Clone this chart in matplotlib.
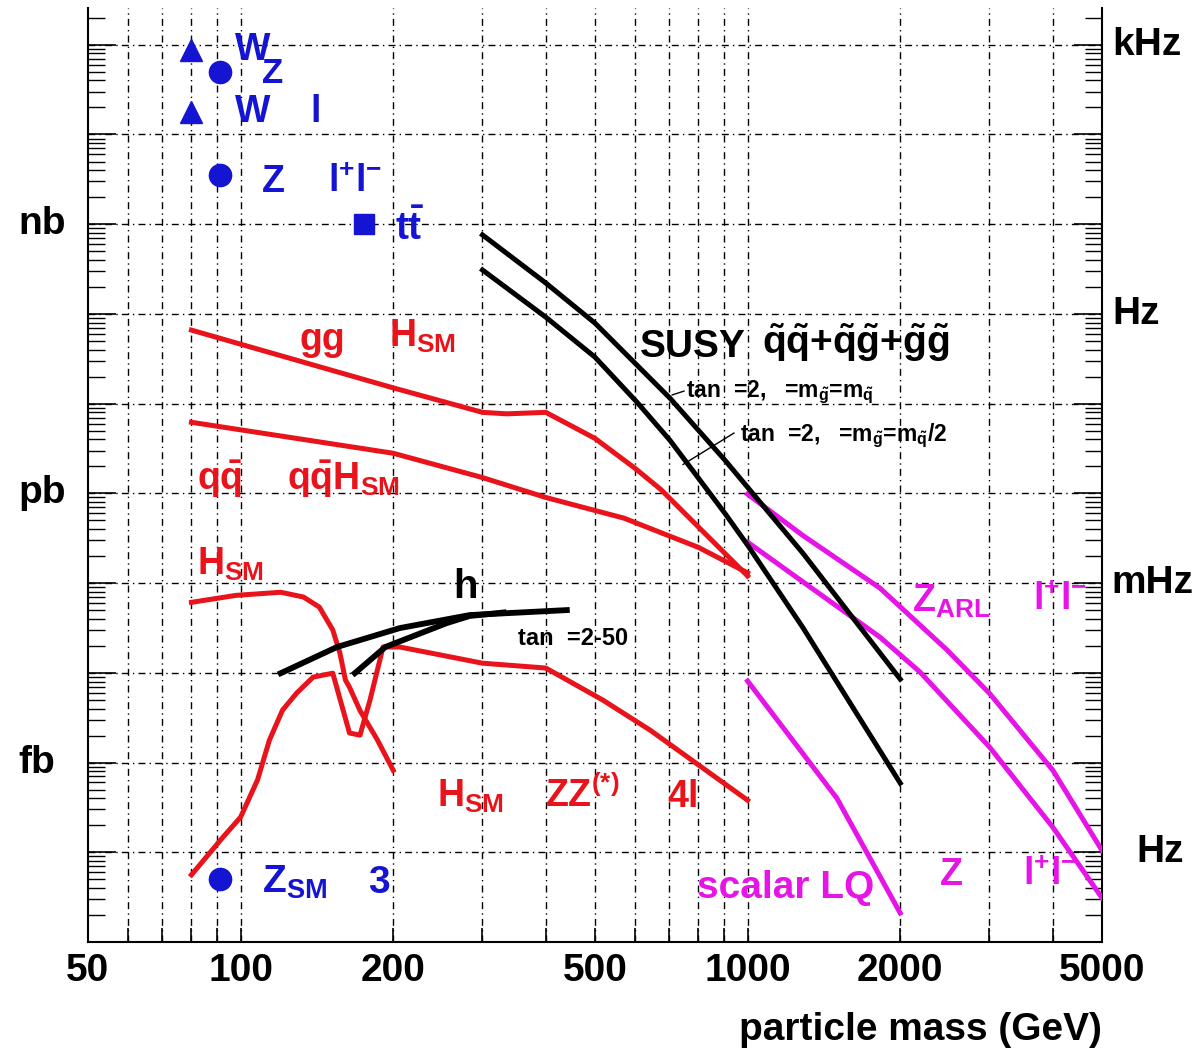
import matplotlib
matplotlib.use('Agg')
import matplotlib.pyplot as plt
from matplotlib.ticker import FixedLocator, NullFormatter, LogLocator

plt.rcParams['font.family'] = 'Liberation Sans'
plt.rcParams['font.weight'] = 'bold'
plt.rcParams['mathtext.fontset'] = 'custom'
plt.rcParams['mathtext.rm'] = 'Liberation Sans:bold'
plt.rcParams['mathtext.it'] = 'Liberation Sans:bold'
plt.rcParams['mathtext.bf'] = 'Liberation Sans:bold'
plt.rcParams['mathtext.sf'] = 'Liberation Sans:bold'
plt.rcParams['mathtext.default'] = 'rm'

RED = '#e8131b'
BLUE = '#1414d2'
MAGENTA = '#e614e6'

# --- data: mass in GeV, cross section in pb ---
tri_mass = [80, 80]
tri_xsec = [8.7e4, 1.8e4]
circ_mass = [91, 91, 91]
circ_xsec = [5.0e4, 3.5e3, 5.0e-5]
top_mass = [175]
top_xsec = [1.0e3]

gg_h_mass = [80, 200, 300, 335, 400, 500, 600, 675, 1000]
gg_h_xsec = [66, 15, 8.0, 7.7, 8.0, 4.1, 1.9, 1.1, 0.12]

qqh_mass = [80, 200, 300, 400, 570, 800, 1000]
qqh_xsec = [6.2, 2.8, 1.5, 0.9, 0.53, 0.25, 0.13]

hgg_mass = [80, 98, 120, 133, 143, 152, 157, 161, 164, 172, 186, 200]
hgg_xsec = [0.061, 0.073, 0.079, 0.070, 0.054, 0.030, 0.0166, 0.0083, 0.0069, 0.0038, 0.0018, 0.00082]

hzz_mass = [80, 92, 100, 108, 114, 121, 129, 139, 152, 164, 172, 180, 191, 206, 300, 400, 518, 642, 1000]
hzz_xsec = [5.6e-5, 1.44e-4, 2.46e-4, 6.4e-4, 1.78e-3, 3.84e-3, 5.94e-3, 8.95e-3, 9.9e-3,
            2.13e-3, 2.02e-3, 4.97e-3, 0.0194, 0.0194, 0.0128, 0.0113, 4.97e-3, 2.3e-3, 3.8e-4]

h_up_mass = [120, 155, 206, 283, 440]
h_up_xsec = [0.0099, 0.0194, 0.0315, 0.044, 0.050]
h_lo_mass = [168, 193, 255, 283, 330]
h_lo_xsec = [0.0099, 0.0194, 0.0358, 0.043, 0.047]

susy1_mass = [300, 400, 500, 703, 902, 1000, 1285, 2000]
susy1_xsec = [760, 221, 79, 11.5, 2.35, 1.17, 0.216, 0.0085]
susy2_mass = [300, 400, 500, 605, 703, 902, 1000, 1285, 2000]
susy2_xsec = [309, 92, 33, 10.4, 3.9, 0.60, 0.265, 0.032, 5.9e-4]

lead1_mass = [710, 749]
lead1_xsec = [12.5, 13.8]
lead2_mass = [746, 940]
lead2_xsec = [2.1, 4.7]

zarl_mass = [1000, 1285, 1824, 2473, 3000, 4000, 5000]
zarl_xsec = [0.98, 0.34, 0.088, 0.018, 0.0059, 8.2e-4, 1.05e-4]
zp_mass = [1000, 1824, 2188, 3000, 4000, 5000]
zp_xsec = [0.286, 0.025, 0.0102, 1.49e-3, 1.9e-4, 3.1e-5]
lq_mass = [1000, 1500, 2000]
lq_xsec = [8.1e-3, 4.0e-4, 2.1e-5]

xtick_vals = [50, 100, 200, 500, 1000, 2000, 5000]
xgrid_vals = [60, 70, 80, 90, 100, 200, 300, 400, 500, 600, 700, 800, 900, 1000, 2000, 3000, 4000]
ygrid_vals = [1e-4, 1e-3, 1e-2, 1e-1, 1, 1e1, 1e2, 1e3, 1e4, 1e5]
left_units = ['nb', 'pb', 'fb']
left_unit_vals = [1e3, 1, 1e-3]
right_units = ['kHz', 'Hz', 'mHz', 'Hz']
right_unit_vals = [1e5, 1e2, 1e-1, 1e-4]
right_unit_x = [1.010, 1.010, 1.009, 1.034]

fig = plt.figure(figsize=(12, 10.52), dpi=100)
ax = fig.add_axes([0.0733, 0.1046, 0.845, 0.8878])
ax.set_xscale('log')
ax.set_yscale('log')
ax.set_xlim(50, 5000)
ax.set_ylim(1e-5, 10 ** 5.41)

grid_style = dict(color='black', lw=1.0, ls=(0, (5, 3, 1, 3)), zorder=0)
for gx in xgrid_vals:
    ax.axvline(gx, **grid_style)
for gy in ygrid_vals:
    ax.axhline(gy, **grid_style)

# curves
for m, s in [(gg_h_mass, gg_h_xsec), (qqh_mass, qqh_xsec),
             (hgg_mass, hgg_xsec), (hzz_mass, hzz_xsec)]:
    ax.plot(m, s, color=RED, lw=3.6, zorder=3, solid_joinstyle='round')
ax.plot(h_up_mass, h_up_xsec, color='black', lw=4.2, zorder=4)
ax.plot(h_lo_mass, h_lo_xsec, color='black', lw=4.2, zorder=4)
ax.plot(susy1_mass, susy1_xsec, color='black', lw=3.6, zorder=4)
ax.plot(susy2_mass, susy2_xsec, color='black', lw=3.6, zorder=4)
ax.plot(lead1_mass, lead1_xsec, color='black', lw=1.0, zorder=4)
ax.plot(lead2_mass, lead2_xsec, color='black', lw=1.0, zorder=4)
for m, s in [(zarl_mass, zarl_xsec), (zp_mass, zp_xsec), (lq_mass, lq_xsec)]:
    ax.plot(m, s, color=MAGENTA, lw=3.6, zorder=3)

# markers
ax.plot(tri_mass, tri_xsec, '^', color=BLUE, ms=16, zorder=5, clip_on=False)
ax.plot(circ_mass, circ_xsec, 'o', color=BLUE, ms=16, zorder=5)
ax.plot(top_mass, top_xsec, 's', color=BLUE, ms=15, zorder=5)


def label(fx, fy, s, color, size=26):
    ax.text(fx, fy, s, transform=ax.transAxes, color=color, fontsize=size,
            ha='left', va='baseline', zorder=6)


# blue labels
label(0.145, 0.944, 'W', BLUE, 27)
label(0.1716, 0.9197, 'Z', BLUE, 25)
label(0.145, 0.878, 'W', BLUE, 27)
label(0.219, 0.878, 'l', BLUE, 27)
label(0.1716, 0.803, 'Z', BLUE, 27)
label(0.2367, 0.803, r'l$^{+}$l$^{-}$', BLUE, 27)
label(0.3028, 0.7516, r't$\bar{t}$', BLUE, 28)
label(0.1716, 0.0525, r'Z$_{SM}$', BLUE, 28)
label(0.276, 0.0525, '3', BLUE, 28)

# red labels
label(0.209, 0.634, 'gg', RED, 27)
label(0.2968, 0.637, r'H$_{SM}$', RED, 27)
label(0.1075, 0.484, r'q$\bar{q}$', RED, 27)
label(0.196, 0.484, r'q$\bar{q}$H$_{SM}$', RED, 27)
label(0.1075, 0.393, r'H$_{SM}$', RED, 27)
label(0.344, 0.1445, r'H$_{SM}$', RED, 27)
label(0.4507, 0.1445, r'ZZ$^{(*)}$', RED, 27)
label(0.571, 0.1445, '4l', RED, 27)

# black labels
label(0.36, 0.3683, 'h', 'black', 29)
label(0.424, 0.318, 'tan  =2-50', 'black', 17)
label(0.5444, 0.626, 'SUSY', 'black', 28)
label(0.6647, 0.630, r'$\tilde{q}\tilde{q}$+$\tilde{q}\tilde{g}$+$\tilde{g}\tilde{g}$', 'black', 28)
label(0.59, 0.5835, r'tan  =2,   =m$_{\tilde{g}}$=m$_{\tilde{q}}$', 'black', 16.5)
label(0.643, 0.5364, r'tan  =2,   =m$_{\tilde{g}}$=m$_{\tilde{q}}$/2', 'black', 16.5)

# magenta labels
label(0.8126, 0.3533, r'Z$_{ARL}$', MAGENTA, 27)
label(0.932, 0.3555, r'l$^{+}$l$^{-}$', MAGENTA, 27)
label(0.840, 0.061, 'Z', MAGENTA, 27)
label(0.922, 0.061, r'l$^{+}$l$^{-}$', MAGENTA, 27)
label(0.6006, 0.047, 'scalar LQ', MAGENTA, 28)

# axes furniture
ax.spines['top'].set_visible(False)
for sp in ['left', 'right', 'bottom']:
    ax.spines[sp].set_linewidth(1.5)

ax.xaxis.set_major_locator(FixedLocator(xtick_vals))
ax.set_xticklabels([str(v) for v in xtick_vals], fontsize=28, fontweight='bold')
ax.xaxis.set_minor_locator(FixedLocator([v for v in xgrid_vals if v not in xtick_vals]))
ax.xaxis.set_minor_formatter(NullFormatter())
ax.tick_params(axis='x', which='both', direction='in', top=False, length=10, width=1.2, pad=8)

ax.yaxis.set_major_locator(LogLocator(base=10, numticks=20))
ax.yaxis.set_minor_locator(LogLocator(base=10, subs=range(2, 10), numticks=20))
ax.yaxis.set_major_formatter(NullFormatter())
ax.yaxis.set_minor_formatter(NullFormatter())
ax.tick_params(axis='y', which='major', direction='in', left=True, right=True, length=20, width=1.2)
ax.tick_params(axis='y', which='minor', direction='in', left=True, right=True, length=12, width=1.0)

ytrans = ax.get_yaxis_transform()
for name, val in zip(left_units, left_unit_vals):
    ax.text(-0.069, val, name, transform=ytrans, fontsize=28, ha='left', va='center')
for name, val, fx in zip(right_units, right_unit_vals, right_unit_x):
    ax.text(fx, val, name, transform=ytrans, fontsize=28, ha='left', va='center')

ax.text(1.0, -0.0942, 'particle mass (GeV)', transform=ax.transAxes,
        fontsize=28, ha='right', va='center')

fig.savefig('out.png', dpi=100)
